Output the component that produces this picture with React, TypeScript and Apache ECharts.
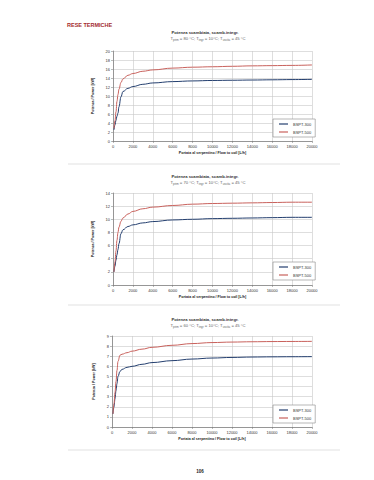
import React, { useEffect, useRef } from "react";
import * as echarts from "echarts";

// ---------- data ----------
const flow = [100, 200, 300, 400, 500, 600, 800, 1000, 1500, 2000, 3000, 4000, 6000, 8000, 10000, 12000, 14000, 16000, 18000, 20000];
const seriesNames = ["BSPT-300", "BSPT-500"];

// chart 1 (80 °C)
const c1_300 = [2.5, 3.6, 4.6, 5.5, 6.2, 7.6, 9.8, 11.0, 11.7, 12.1, 12.6, 12.9, 13.2, 13.35, 13.45, 13.5, 13.55, 13.6, 13.65, 13.7];
const c1_500 = [2.8, 4.5, 6.5, 8.8, 10.3, 11.5, 13.0, 13.8, 14.6, 15.0, 15.5, 15.8, 16.2, 16.4, 16.5, 16.6, 16.7, 16.75, 16.8, 16.9];
// chart 2 (70 °C)
const c2_300 = [2.0, 2.9, 3.8, 4.6, 5.4, 6.3, 7.8, 8.4, 8.9, 9.15, 9.45, 9.65, 9.9, 10.0, 10.1, 10.15, 10.2, 10.25, 10.3, 10.3];
const c2_500 = [2.0, 3.5, 5.2, 6.8, 8.0, 8.8, 9.7, 10.2, 10.8, 11.2, 11.6, 11.85, 12.1, 12.3, 12.4, 12.45, 12.5, 12.55, 12.6, 12.6];
// chart 3 (60 °C)
const c3_300 = [1.3, 2.0, 2.8, 3.6, 4.3, 5.0, 5.5, 5.7, 5.9, 6.0, 6.2, 6.37, 6.56, 6.72, 6.82, 6.88, 6.92, 6.94, 6.95, 6.96];
const c3_500 = [1.3, 2.3, 3.4, 4.5, 5.6, 6.5, 7.1, 7.2, 7.35, 7.5, 7.7, 7.88, 8.08, 8.25, 8.35, 8.4, 8.43, 8.45, 8.46, 8.47];

const chartData = [
  [c1_300, c1_500],
  [c2_300, c2_500],
  [c3_300, c3_500],
];
const yMax = [20, 14, 9];
const yStep = [2, 2, 1];
const xMax = 20000;
const xStep = 2000;
const primTemps = [80, 70, 60];
const inTemp = 10;
const outTemp = 45;

const header = "RESE TERMICHE";
const chartTitle = "Potenza scambiata, scamb.integr.";
const xTitle = "Portata al serpentino / Flow to coil [L/h]";
const yTitle = "Potenza / Power [kW]";
const pageNo = "106";

// ---------- layout / style ----------
const FONT = "'Liberation Sans', Arial, sans-serif";
const COLORS = ["#243f6f", "#c9625d"];
const grids = [
  { left: 113, top: 51, width: 199, height: 90 },
  { left: 113, top: 193, width: 199, height: 92 },
  { left: 112, top: 336, width: 200, height: 91 },
];
const legendTops = [119, 262, 405];
const titleYs = [32, 176, 319];
const sepYs = [164, 305, 450];

export default function App() {
  const ref = useRef<HTMLDivElement>(null);

  useEffect(() => {
    if (!ref.current) return;
    const chart = echarts.init(ref.current, undefined, { renderer: "svg" });

    const plain = (v: number) => String(v);

    const xAxis = grids.map((g, i) => ({
      type: "value",
      gridIndex: i,
      min: 0,
      max: xMax,
      interval: xStep,
      name: xTitle,
      nameLocation: "middle",
      nameGap: 10,
      nameTextStyle: { fontSize: 3.6, fontWeight: "bold", color: "#222", fontFamily: FONT },
      axisLine: { show: true, lineStyle: { color: "#777", width: 0.7 } },
      axisTick: { show: true, length: 2, lineStyle: { color: "#777", width: 0.5 } },
      minorTick: { show: true, splitNumber: 5, length: 1, lineStyle: { color: "#999", width: 0.4 } },
      axisLabel: { fontSize: 4, color: "#333", margin: 3, fontFamily: FONT, formatter: plain },
      splitLine: { show: true, lineStyle: { color: "#c8c8c8", width: 0.6 } },
    }));

    const yAxis = grids.map((g, i) => ({
      type: "value",
      gridIndex: i,
      min: 0,
      max: yMax[i],
      interval: yStep[i],
      name: yTitle,
      nameLocation: "middle",
      nameGap: 9,
      nameTextStyle: { fontSize: 3.6, fontWeight: "bold", color: "#222", fontFamily: FONT },
      axisLine: { show: true, lineStyle: { color: "#777", width: 0.7 } },
      axisTick: { show: true, length: 2, lineStyle: { color: "#777", width: 0.5 } },
      axisLabel: { fontSize: 4, color: "#333", margin: 3, fontFamily: FONT, formatter: plain },
      splitLine: { show: true, lineStyle: { color: "#c8c8c8", width: 0.6 } },
    }));

    const series: any[] = [];
    chartData.forEach((pair, i) => {
      pair.forEach((vals, s) => {
        series.push({
          type: "line",
          name: seriesNames[s],
          xAxisIndex: i,
          yAxisIndex: i,
          data: flow.map((f, k) => [f, vals[k]]),
          symbol: "none",
          smooth: 0.4,
          smoothMonotone: "x",
          color: COLORS[s],
          lineStyle: { color: COLORS[s], width: 1 },
          z: 3 + s,
        });
      });
    });

    const legend = legendTops.map((t) => ({
      left: 273,
      top: t,
      orient: "vertical",
      data: seriesNames,
      icon: "rect",
      itemWidth: 9,
      itemHeight: 1.2,
      itemGap: 4,
      padding: [3, 4, 3, 6],
      backgroundColor: "#fff",
      borderColor: "#888",
      borderWidth: 0.6,
      selectedMode: false,
      textStyle: { fontSize: 4, color: "#333", fontFamily: FONT },
    }));

    const graphic: any[] = [
      {
        type: "text",
        x: 67,
        y: 25,
        style: {
          text: header,
          fill: "#a32a2e",
          fontSize: 5.5,
          fontWeight: "bold",
          fontFamily: FONT,
          verticalAlign: "middle",
          align: "left",
        },
      },
      {
        type: "text",
        x: 200,
        y: 471,
        style: {
          text: pageNo,
          fill: "#222",
          fontSize: 4.5,
          fontWeight: "bold",
          fontFamily: FONT,
          verticalAlign: "middle",
          align: "center",
        },
      },
    ];
    titleYs.forEach((ty, i) => {
      graphic.push({
        type: "text",
        x: 205,
        y: ty,
        style: {
          text: chartTitle,
          fill: "#333",
          fontSize: 4.2,
          fontWeight: "bold",
          fontFamily: FONT,
          align: "center",
          verticalAlign: "middle",
        },
      });
      graphic.push({
        type: "text",
        x: 208,
        y: ty + 6.5,
        style: {
          text:
            "{n|T}{s|prim}{n| = " + primTemps[i] + " °C; T}{s|ingr}{n| = " + inTemp +
            "°C; T}{s|uscita}{n| = " + outTemp + " °C}",
          align: "center",
          verticalAlign: "middle",
          rich: {
            n: { fontSize: 4.2, fill: "#666", color: "#666", fontFamily: FONT },
            s: { fontSize: 2.9, fill: "#666", color: "#666", fontFamily: FONT, padding: [2, 0, 0, 0] },
          },
        },
      });
    });
    sepYs.forEach((sy) => {
      graphic.push({
        type: "line",
        shape: { x1: 68, y1: sy, x2: 340, y2: sy },
        style: { stroke: "#cfcfcf", lineWidth: 0.6 },
      });
    });

    chart.setOption({
      animation: false,
      backgroundColor: "#fff",
      textStyle: { fontFamily: FONT },
      grid: grids.map((g) => ({ ...g, containLabel: false })),
      xAxis,
      yAxis,
      series,
      legend,
      graphic,
    });

    return () => chart.dispose();
  }, []);

  return (
    <div
      ref={ref}
      style={{ position: "absolute", left: 0, top: 0, width: 374, height: 480, background: "#fff" }}
    />
  );
}
